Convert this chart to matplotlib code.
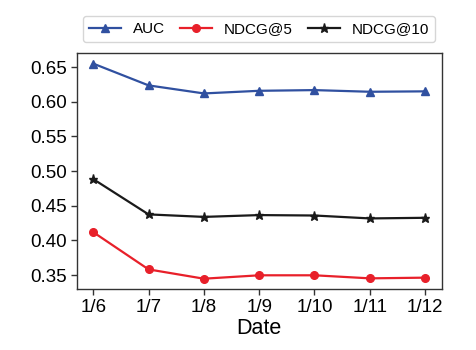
import matplotlib
matplotlib.use("Agg")
import matplotlib.pyplot as plt

plt.rcParams['font.family'] = ['Liberation Sans', 'DejaVu Sans']

dates = ["1/6", "1/7", "1/8", "1/9", "1/10", "1/11", "1/12"]
auc = [0.655, 0.6236, 0.612, 0.6158, 0.6168, 0.6144, 0.615]
ndcg5 = [0.412, 0.3583, 0.3449, 0.3498, 0.3498, 0.3454, 0.3464]
ndcg10 = [0.4885, 0.4376, 0.434, 0.4366, 0.436, 0.4318, 0.4327]

fig = plt.figure(figsize=(4.76, 3.5), dpi=100)
ax = fig.add_axes([0.161, 0.173, 0.767, 0.676])
x = list(range(len(dates)))
ax.plot(x, auc, color='#3050a0', marker='^', markersize=6, linewidth=1.6, label='AUC')
ax.plot(x, ndcg5, color='#e8202a', marker='o', markersize=5.5, linewidth=1.6, label='NDCG@5')
ax.plot(x, ndcg10, color='#1a1a1a', marker='*', markersize=6.5, linewidth=1.6, label='NDCG@10')

ax.set_xticks(x)
ax.set_xticklabels(dates)
ax.set_yticks([0.35, 0.40, 0.45, 0.50, 0.55, 0.60, 0.65])
ax.set_yticklabels(["0.35", "0.40", "0.45", "0.50", "0.55", "0.60", "0.65"])
ax.tick_params(labelsize=13.5, length=4, width=1, color='#333333', pad=3)
for s in ax.spines.values():
    s.set_color('#333333')
    s.set_linewidth(1.0)
ax.set_xlabel('Date', fontsize=15.5, labelpad=1)

leg = ax.legend(loc='lower center', bbox_to_anchor=(0.5, 1.013), ncol=3, fontsize=11,
                frameon=True, fancybox=True, edgecolor='#cccccc', handlelength=2.1,
                handletextpad=0.75, columnspacing=1.0, borderpad=0.4)

fig.savefig('out.png', dpi=100)
